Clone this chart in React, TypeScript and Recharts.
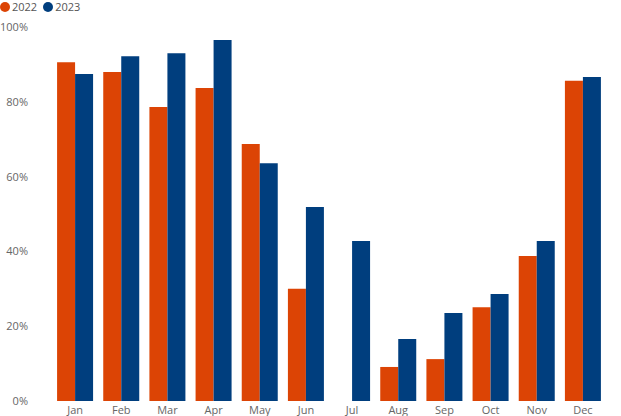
import { BarChart, Bar, XAxis, YAxis, Legend } from "recharts";

const months = ["Jan", "Feb", "Mar", "Apr", "May", "Jun", "Jul", "Aug", "Sep", "Oct", "Nov", "Dec"];
const values2022 = [0.906, 0.88, 0.786, 0.837, 0.687, 0.3, null, 0.091, 0.112, 0.251, 0.388, 0.856];
const values2023 = [0.874, 0.922, 0.93, 0.965, 0.636, 0.519, 0.428, 0.166, 0.235, 0.286, 0.428, 0.866];
const yTicks = [0, 0.2, 0.4, 0.6, 0.8, 1];

const series = [
  { key: "y2022", name: "2022", color: "#DC4405" },
  { key: "y2023", name: "2023", color: "#003E7E" },
];

const data = months.map((m, i) => ({ month: m, y2022: values2022[i], y2023: values2023[i] }));

const font = "'Open Sans', 'Noto Sans', sans-serif";

function LegendContent() {
  return (
    <div style={{ display: "flex", gap: 6, fontFamily: font, fontSize: 11, color: "#555", lineHeight: "13px" }}>
      {series.map((s) => (
        <span key={s.key} style={{ display: "flex", alignItems: "center", gap: 2 }}>
          <span style={{ width: 10, height: 10, borderRadius: 5, background: s.color, display: "inline-block" }} />
          {s.name}
        </span>
      ))}
    </div>
  );
}

export default function App() {
  return (
    <div style={{ position: "absolute", left: 0, top: 0, background: "#fff" }}>
      <BarChart
        width={621}
        height={416}
        data={data}
        margin={{ top: 14, right: 15, left: 0, bottom: 0 }}
        barCategoryGap="11%"
        barGap={0}
      >
        <Legend
          verticalAlign="top"
          align="left"
          content={<LegendContent />}
          wrapperStyle={{ top: 0, left: 0 }}
        />
        <XAxis
          dataKey="month"
          axisLine={false}
          tickLine={false}
          tickSize={0}
          tickMargin={5}
          height={15}
          interval={0}
          tick={{ fill: "#666", fontSize: 11, fontFamily: font }}
        />
        <YAxis
          width={52}
          domain={[0, 1]}
          ticks={yTicks}
          axisLine={false}
          tickLine={false}
          tickSize={0}
          tickMargin={24}
          tickFormatter={(v: number) => `${Math.round(v * 100)}%`}
          tick={{ fill: "#666", fontSize: 11, fontFamily: font }}
        />
        {series.map((s) => (
          <Bar key={s.key} dataKey={s.key} name={s.name} fill={s.color} isAnimationActive={false} />
        ))}
      </BarChart>
    </div>
  );
}
